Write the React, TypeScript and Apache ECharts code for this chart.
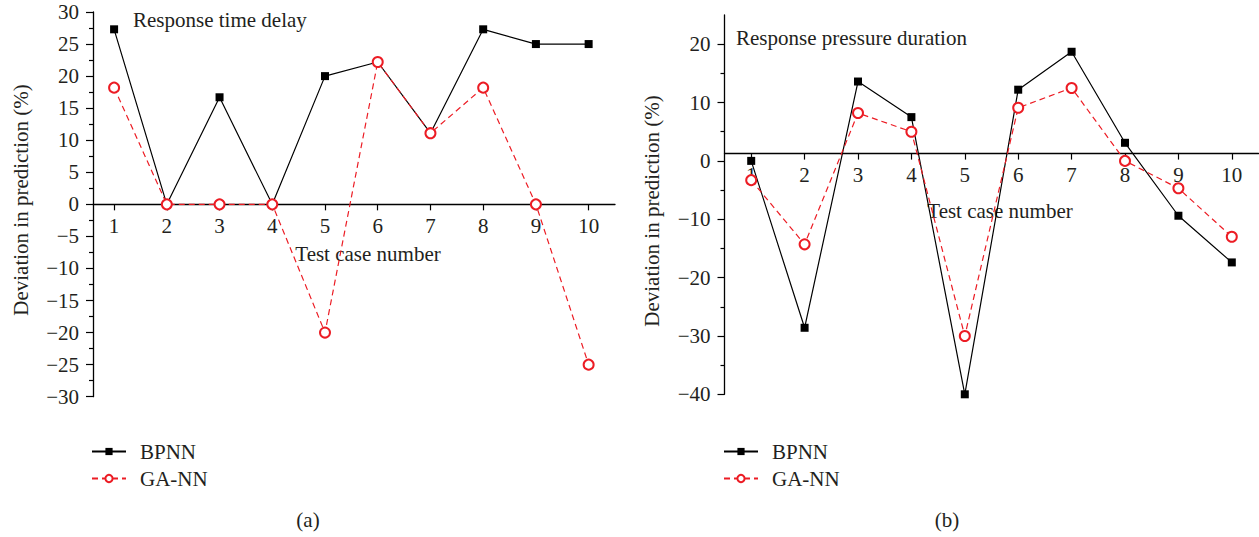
import React, { useEffect, useRef } from "react";
import * as echarts from "echarts";

const cases = [1, 2, 3, 4, 5, 6, 7, 8, 9, 10];
const bpnnA = [27.3, 0, 16.7, 0, 20, 22.2, 11.1, 27.3, 25, 25];
const gannA = [18.2, 0, 0, 0, -20, 22.2, 11.1, 18.2, 0, -25];
const bpnnB = [0, -28.6, 13.6, 7.5, -40, 12.2, 18.7, 3.1, -9.4, -17.4];
const gannB = [-3.3, -14.3, 8.2, 5.0, -30, 9.1, 12.5, 0, -4.7, -13.0];
const yTicksB = [-40, -30, -20, -10, 0, 10, 20];

const FONT = "Liberation Serif";
const TXT = "#231f20";
const RED = "#ec1c24";

function pairs(vals: number[]) {
  return cases.map((c, i) => [c, vals[i]]);
}

export default function App() {
  const ref = useRef<HTMLDivElement>(null);
  useEffect(() => {
    if (!ref.current) return;
    const chart = echarts.init(ref.current, null, { renderer: "svg" });
    const gridA = { left: 93, top: 12, width: 522, height: 384.7 };
    const gridB = { left: 724.5, top: 15, width: 534, height: 379.3 };
    const yRangeA = [-30, 30];
    const yRangeB = [-40, 25];
    const crossB = 1.25; // value at which the x axis crosses in panel (b)
    const offA = -(gridA.height * (0 - yRangeA[0])) / (yRangeA[1] - yRangeA[0]);
    const offB = -(gridB.height * (crossB - yRangeB[0])) / (yRangeB[1] - yRangeB[0]);
    const xAxisBase = (gridIndex: number, min: number, offset: number) => ({
      type: "value",
      gridIndex,
      min,
      max: 10.5,
      position: "bottom",
      offset,
      axisLine: { onZero: false, lineStyle: { color: "#000", width: 1.3 } },
      axisTick: { customValues: cases, length: 6, lineStyle: { color: "#000", width: 1.2 } },
      axisLabel: { customValues: cases, fontFamily: FONT, fontSize: 21, color: TXT, margin: 11 },
      splitLine: { show: false },
    });
    const fmt = (v: any) => {
      const n = Number(v);
      return n < 0 ? "\u2212" + Math.abs(n) : String(n);
    };
    const yAxisBase = (gridIndex: number, range: number[], interval: number, ticks?: number[]) => ({
      type: "value",
      gridIndex,
      min: range[0],
      max: range[1],
      interval,
      axisLine: { show: true, onZero: false, lineStyle: { color: "#000", width: 1.3 } },
      axisTick: { show: true, customValues: ticks, length: 7, lineStyle: { color: "#000", width: 1.2 } },
      minorTick: { show: true, splitNumber: 2, length: 4, lineStyle: { color: "#000", width: 1.2 } },
      axisLabel: {
        customValues: ticks,
        formatter: fmt,
        fontFamily: FONT,
        fontSize: 21,
        color: TXT,
        margin: 14,
      },
      splitLine: { show: false },
    });
    const bp = (xi: number, yi: number, vals: number[]) => ({
      name: "BPNN",
      type: "line",
      xAxisIndex: xi,
      yAxisIndex: yi,
      data: pairs(vals),
      symbol: "rect",
      symbolSize: 8,
      itemStyle: { color: "#000" },
      lineStyle: { color: "#000", width: 1.2 },
      z: 2,
    });
    const ga = (xi: number, yi: number, vals: number[]) => ({
      name: "GA-NN",
      type: "line",
      xAxisIndex: xi,
      yAxisIndex: yi,
      data: pairs(vals),
      symbol: "emptyCircle",
      symbolSize: 10,
      itemStyle: { color: RED, borderColor: RED, borderWidth: 1.3 },
      lineStyle: { color: RED, width: 1.2, type: [6, 4] },
      z: 3,
    });
    const legendBase = (left: number) => ({
      orient: "vertical",
      left,
      top: 436,
      itemWidth: 34,
      itemHeight: 9,
      itemGap: 6,
      data: ["BPNN", "GA-NN"],
      textStyle: { fontFamily: FONT, fontSize: 21, color: TXT, lineHeight: 21, padding: [0, 0, 0, 9] },
      selectedMode: false,
    });
    const txt = (text: string, x: number, y: number, rotation = 0, align = "center") => ({
      type: "text",
      x,
      y,
      rotation,
      style: { text, fontFamily: FONT, fontSize: 21, fill: TXT, align, verticalAlign: "middle" },
    });
    chart.setOption({
      animation: false,
      grid: [gridA, gridB],
      xAxis: [xAxisBase(0, 0.6, offA), xAxisBase(1, 0.5, offB)],
      yAxis: [yAxisBase(0, yRangeA, 5), yAxisBase(1, yRangeB, 10, yTicksB)],
      legend: [legendBase(86), legendBase(718)],
      series: [bp(0, 0, bpnnA), ga(0, 0, gannA), bp(1, 1, bpnnB), ga(1, 1, gannB)],
      graphic: [
        txt("Response time delay", 133, 20, 0, "left"),
        txt("Response pressure duration", 736, 38, 0, "left"),
        txt("Test case number", 368, 254),
        txt("Test case number", 1000, 211),
        txt("Deviation in prediction (%)", 21, 200, Math.PI / 2),
        txt("Deviation in prediction (%)", 652, 211, Math.PI / 2),
        txt("(a)", 308, 520),
        txt("(b)", 947, 520),
      ],
    });
    return () => chart.dispose();
  }, []);
  return (
    <div
      ref={ref}
      style={{ position: "absolute", left: 0, top: 0, width: 1259, height: 537, background: "#fff" }}
    />
  );
}
